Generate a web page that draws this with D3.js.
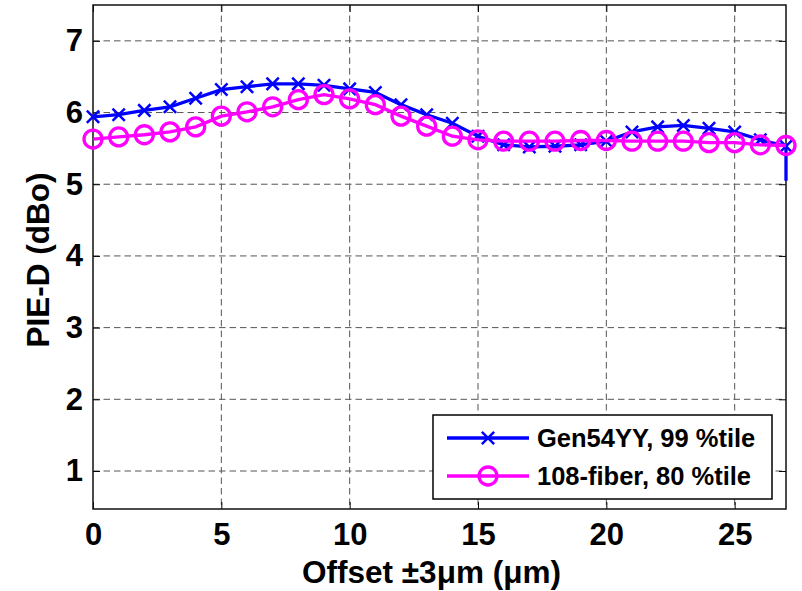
<!DOCTYPE html>
<html lang="en">
<head>
<meta charset="utf-8">
<title>PIE-D vs offset</title>
<script src="https://d3js.org/d3.v7.min.js"></script>
<style>
  body { margin: 0; background: #fff; }
  text { font-family: "Liberation Sans", Arial, sans-serif; font-weight: bold; }
</style>
</head>
<body>
<div id="chart"></div>
<script>
// values
const offsets = [0,1,2,3,4,5,6,7,8,9,10,11,12,13,14,15,16,17,18,19,20,21,22,23,24,25,26,27];
const gen54 = [5.94,5.97,6.03,6.08,6.20,6.32,6.36,6.40,6.40,6.38,6.33,6.28,6.11,5.97,5.85,5.67,5.55,5.52,5.53,5.55,5.60,5.73,5.80,5.82,5.78,5.73,5.62,5.53];
const gen54Tail = 5.05;   // blue line drops at the last offset
const fiber108 = [5.63,5.66,5.69,5.73,5.80,5.95,6.01,6.08,6.18,6.25,6.19,6.11,5.95,5.81,5.67,5.62,5.60,5.60,5.60,5.61,5.61,5.60,5.60,5.60,5.58,5.58,5.55,5.54];
const xTicks = [0,5,10,15,20,25];
const yTicks = [1,2,3,4,5,6,7];
const seriesNames = ["Gen54YY, 99 %tile", "108-fiber, 80 %tile"];

const W = 802, H = 591;
const pl = 93, pr = 786, pt = 5, pb = 509;

const svg = d3.select("#chart").append("svg")
  .attr("width", W).attr("height", H);

const x = d3.scaleLinear().domain([0, 27]).range([pl, pr]);
const y = d3.scaleLinear().domain([0.47, 7.5]).range([pb, pt]);

// dashed grid
svg.append("g").selectAll("line")
  .data(xTicks.filter(d => d > 0))
  .join("line")
  .attr("x1", d => x(d)).attr("x2", d => x(d))
  .attr("y1", pt).attr("y2", pb)
  .attr("stroke", "#555").attr("stroke-dasharray", "6.5,4");
svg.append("g").selectAll("line")
  .data(yTicks)
  .join("line")
  .attr("x1", pl).attr("x2", pr)
  .attr("y1", d => y(d)).attr("y2", d => y(d))
  .attr("stroke", "#555").attr("stroke-dasharray", "6.5,4");

// axes with inward ticks
const fs = 31;
const xAxis = svg.append("g").attr("transform", `translate(0,${pb})`)
  .call(d3.axisBottom(x).tickValues(xTicks).tickFormat(d3.format("d"))
    .tickSizeInner(-7).tickSizeOuter(0).tickPadding(14));
const yAxis = svg.append("g").attr("transform", `translate(${pl},0)`)
  .call(d3.axisLeft(y).tickValues(yTicks).tickFormat(d3.format("d"))
    .tickSizeInner(-7).tickSizeOuter(0).tickPadding(10));
svg.append("g").attr("transform", `translate(0,${pt})`)
  .call(d3.axisTop(x).tickValues(xTicks).tickSizeInner(-7).tickSizeOuter(0).tickFormat(""));
svg.append("g").attr("transform", `translate(${pr},0)`)
  .call(d3.axisRight(y).tickValues(yTicks).tickSizeInner(-7).tickSizeOuter(0).tickFormat(""));
svg.selectAll(".domain").remove();
svg.selectAll(".tick line").attr("stroke", "#000").attr("stroke-width", 1);
xAxis.selectAll("text").attr("font-size", fs).attr("fill", "#000")
  .attr("dy", "0.71em");
yAxis.selectAll("text").attr("font-size", fs).attr("fill", "#000");

// box
svg.append("rect")
  .attr("x", pl).attr("y", pt)
  .attr("width", pr - pl).attr("height", pb - pt)
  .attr("fill", "none").attr("stroke", "#111").attr("stroke-width", 1.5);

// lines
const line = d3.line().x(d => x(d[0])).y(d => y(d[1]));
const bluePts = offsets.map((o, i) => [o, gen54[i]]);
bluePts.push([offsets[offsets.length - 1], gen54Tail]);
const pinkPts = offsets.map((o, i) => [o, fiber108[i]]);

svg.append("path").datum(bluePts)
  .attr("d", line).attr("fill", "none")
  .attr("stroke", "#0000ff").attr("stroke-width", 3.3);

const xMark = d3.symbol().type(d3.symbolTimes).size(100);
svg.append("g").selectAll("path")
  .data(offsets)
  .join("path")
  .attr("transform", (d, i) => `translate(${x(d)},${y(gen54[i])})`)
  .attr("d", xMark)
  .attr("fill", "#0000ff").attr("stroke", "#0000ff").attr("stroke-width", 2.5);

svg.append("path").datum(pinkPts)
  .attr("d", line).attr("fill", "none")
  .attr("stroke", "#ff00ff").attr("stroke-width", 3.3);

svg.append("g").selectAll("circle")
  .data(offsets)
  .join("circle")
  .attr("cx", d => x(d)).attr("cy", (d, i) => y(fiber108[i]))
  .attr("r", 9)
  .attr("fill", "none").attr("stroke", "#ff00ff").attr("stroke-width", 3.3);

// legend
const lg = svg.append("g");
lg.append("rect")
  .attr("x", 433).attr("y", 415).attr("width", 339).attr("height", 84)
  .attr("fill", "#fff").attr("stroke", "#000").attr("stroke-width", 1.5);
const rows = [438, 476];
const colors = ["#0000ff", "#ff00ff"];
rows.forEach((ry, i) => {
  lg.append("line")
    .attr("x1", 447).attr("x2", 529).attr("y1", ry).attr("y2", ry)
    .attr("stroke", colors[i]).attr("stroke-width", 3.3);
  if (i === 0) {
    lg.append("path").attr("transform", `translate(488,${ry})`)
      .attr("d", xMark).attr("fill", colors[i]).attr("stroke", colors[i]).attr("stroke-width", 2.5);
  } else {
    lg.append("circle").attr("cx", 488).attr("cy", ry).attr("r", 9)
      .attr("fill", "none").attr("stroke", colors[i]).attr("stroke-width", 3.3);
  }
  lg.append("text")
    .attr("x", 537).attr("y", ry).attr("dy", "0.36em")
    .attr("font-size", 25.5).attr("fill", "#000")
    .text(seriesNames[i]);
});

// axis labels
svg.append("text")
  .attr("x", (pl + pr) / 2 - 8).attr("y", 583)
  .attr("text-anchor", "middle").attr("font-size", 31.5)
  .text("Offset \u00b13\u03bcm (\u03bcm)");
svg.append("text")
  .attr("transform", `translate(49,${(pt + pb) / 2 + 3}) rotate(-90)`)
  .attr("text-anchor", "middle").attr("font-size", 31.5)
  .text("PIE-D (dBo)");
</script>
</body>
</html>
